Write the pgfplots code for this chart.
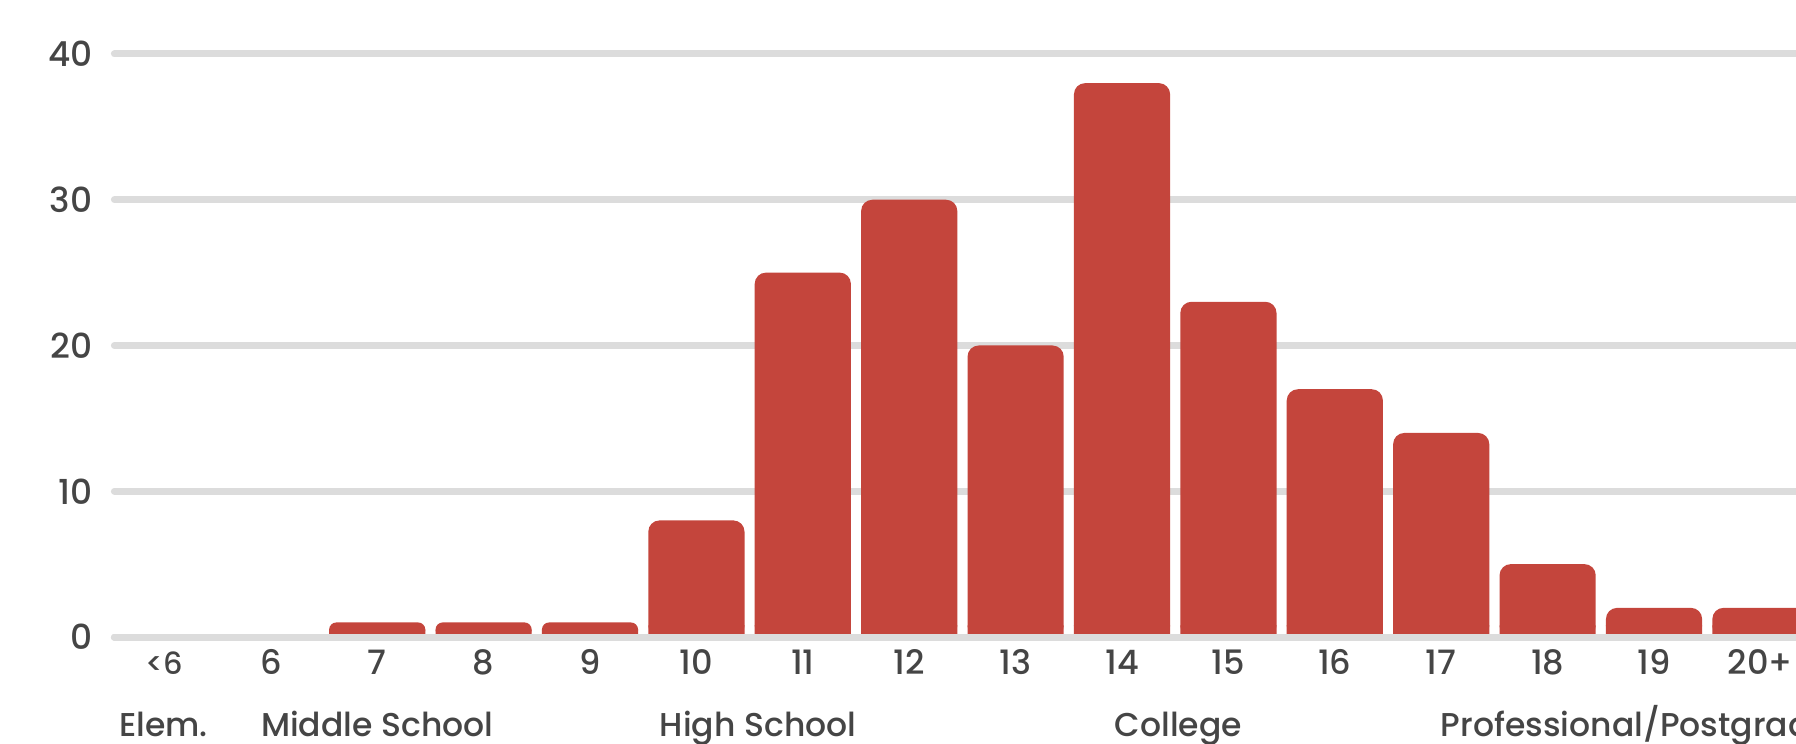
\documentclass[border=0pt]{standalone}
\usepackage{pgfplots}
\pgfplotsset{compat=1.18}
\usepackage{pgfplotstable}
\usepackage{fontspec}
\setmainfont{Poppins Medium}
\definecolor{barred}{HTML}{C4453C}
\definecolor{gridgray}{HTML}{DCDCDC}
\definecolor{txt}{HTML}{454545}
\pgfplotstableread{
x y
0 0
1 0
2 1
3 1
4 1
5 8
6 25
7 30
8 20
9 38
10 23
11 17
12 14
13 5
14 2
15 2
}\edu
\begin{document}
\begin{tikzpicture}
\begin{axis}[
  at={(28.6pt,26.5pt)}, anchor=south west,
  x=26.6pt, y=3.644pt,
  xmin=-0.47, xmax=16, ymin=0, ymax=40,
  clip=false,
  axis line style={draw=none},
  tick style={draw=none},
  ymajorgrids,
  grid style={gridgray, line width=1.75pt, line cap=round},
  ytick={0,10,20,30,40},
  xtick={0,...,15},
  xticklabels={{\fontsize{7.6}{9}\selectfont<6},6,7,8,9,10,11,12,13,14,15,16,17,18,19,20+},
  /pgf/number format/assume math mode=true,
  yticklabel style={font=\fontsize{8.6}{10}\selectfont, text=txt, anchor=east, inner sep=0pt, xshift=-5.3pt},
  xticklabel style={font=\fontsize{8.4}{10}\selectfont, text=txt, anchor=base, inner sep=0pt, yshift=-5.1pt},
  ybar, bar width=0.904, bar shift=0pt,
  unbounded coords=discard,
]
\addplot[fill=barred, draw=none, rounded corners=2.8pt, y filter/.expression={y<1.5 ? nan : y}] table[x=x,y=y]{\edu};
\addplot[fill=barred, draw=none, rounded corners=1.8pt, y filter/.expression={(y==0 || y>=1.5) ? nan : y}] table[x=x,y=y]{\edu};
\addplot[fill=barred, draw=none, y filter/.expression={y==0 ? nan : min(y,0.5*min(y,1.6))}] table[x=x,y=y]{\edu};
\draw[gridgray, line width=1.75pt, line cap=round] (axis cs:-0.47,0) -- (axis cs:16,0);
\begin{scope}[every node/.style={font=\fontsize{8.25}{10}\selectfont, text=txt, inner sep=0pt}]
\node[anchor=base] at ([yshift=-24.75pt]axis cs:-0.01,0) {Elem.};
\node[anchor=base] at ([yshift=-24.75pt]axis cs:2.0,0) {Middle School};
\node[anchor=base] at ([yshift=-24.75pt]axis cs:5.58,0) {High School};
\node[anchor=base] at ([yshift=-24.75pt]axis cs:9.53,0) {College};
\node[anchor=base west] at ([yshift=-24.75pt]axis cs:11.99,0) {Professional/Postgraduate};
\end{scope}
\end{axis}
\pgfresetboundingbox
\useasboundingbox (0,0) rectangle (449pt,185.75pt);
\end{tikzpicture}
\end{document}
